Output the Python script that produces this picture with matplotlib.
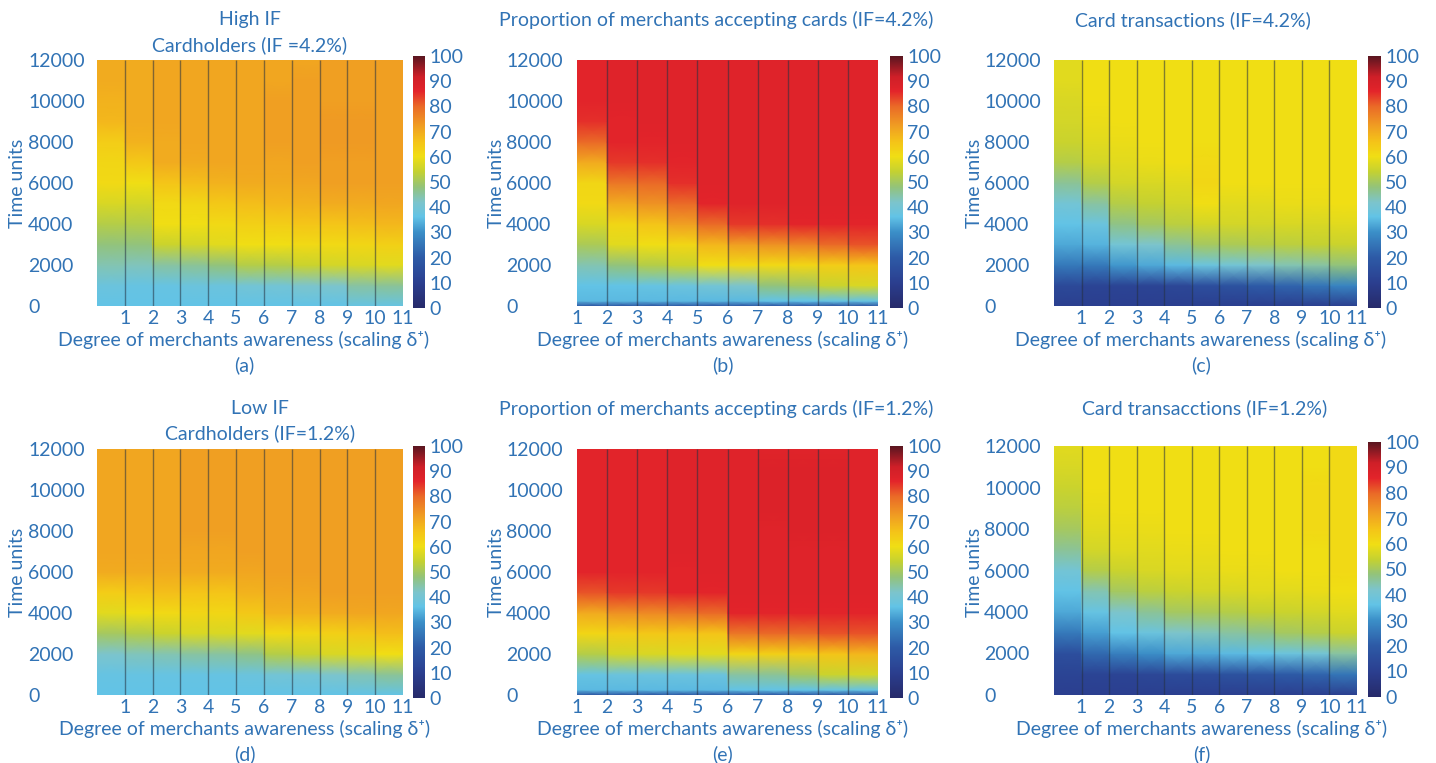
import numpy as np
import matplotlib
matplotlib.use("Agg")
import matplotlib.pyplot as plt
from matplotlib.colors import LinearSegmentedColormap, Normalize
from matplotlib.cm import ScalarMappable

plt.rcParams['font.family'] = ['Lato', 'DejaVu Sans']
TXT = '#3173b5'
W, H = 1436, 763

# time axis nodes (rows of the heatmaps)
time_units = [0, 1000, 2000, 3000, 4000, 5000, 6000, 7000, 8000, 9000, 10000, 11000, 12000]
# merchant panels have a thin dark strip at t=0, so they get one more node
merchant_time = [0, 250, 1000, 2000, 3000, 4000, 5000, 6000, 7000, 8000, 9000, 10000, 11000, 12000]
awareness = [1, 2, 3, 4, 5, 6, 7, 8, 9, 10, 11]

# (a) cardholders, IF = 4.2%  -- one list per awareness column, values at time_units
cardholders_high = [
    [36, 38, 44, 48, 52, 57, 61, 62, 64, 68, 69, 70, 70],
    [36, 37, 43, 48, 52, 56, 60, 65, 69, 70, 70, 70, 70],
    [36, 37, 45, 55, 60, 61, 66, 70, 70, 71, 71, 71, 71],
    [36, 38, 46, 56, 60, 62, 67, 70, 71, 71, 71, 71, 71],
    [36, 38, 48, 58, 61, 65, 69, 71, 71, 71, 71, 71, 71],
    [36, 40, 52, 60, 63, 67, 70, 71, 71, 71, 71, 71, 71],
    [36, 40, 52, 60, 64, 68, 70, 71, 72, 72, 72, 71, 71],
    [36, 42, 55, 61, 66, 69, 71, 72, 72, 72, 72, 72, 71],
    [36, 42, 56, 61, 66, 70, 72, 72, 73, 73, 72, 72, 72],
    [37, 45, 57, 62, 67, 70, 72, 72, 73, 73, 72, 72, 72],
    [37, 46, 58, 63, 68, 71, 72, 72, 72, 72, 72, 72, 72],
]

# (b) merchants accepting cards, IF = 4.2% (awareness 1..11, ten columns), values at merchant_time
merchants_high = [
    [18, 35, 36, 44, 51, 57, 61, 62, 70, 80, 85, 86, 86, 86],
    [18, 35, 36, 48, 58, 62, 70, 78, 84, 86, 86, 87, 87, 87],
    [18, 35, 37, 52, 60, 66, 74, 80, 85, 86, 87, 87, 87, 87],
    [18, 35, 38, 55, 62, 72, 80, 85, 86, 87, 87, 87, 87, 87],
    [18, 35, 40, 60, 68, 80, 86, 87, 87, 87, 87, 87, 87, 87],
    [18, 35, 42, 61, 72, 84, 87, 87, 87, 87, 87, 87, 87, 87],
    [18, 36, 48, 61, 74, 85, 87, 87, 87, 87, 87, 87, 87, 87],
    [18, 36, 50, 62, 76, 86, 87, 87, 87, 87, 87, 87, 87, 87],
    [18, 37, 55, 64, 80, 86, 87, 87, 87, 87, 87, 87, 87, 87],
    [18, 37, 57, 66, 82, 86, 87, 87, 87, 87, 87, 87, 87, 87],
]

# (c) card transactions, IF = 4.2%
transactions_high = [
    [10, 14, 26, 33, 36, 40, 46, 52, 55, 56, 57, 58, 58],
    [10, 12, 26, 34, 38, 45, 52, 56, 58, 59, 60, 60, 60],
    [10, 12, 31, 40, 47, 52, 56, 58, 59, 60, 60, 60, 60],
    [10, 12, 33, 42, 50, 54, 57, 59, 60, 60, 60, 60, 60],
    [10, 13, 35, 46, 53, 56, 58, 60, 60, 60, 60, 60, 60],
    [10, 16, 38, 50, 56, 60, 62, 61, 60, 60, 60, 60, 60],
    [10, 17, 40, 51, 56, 58, 60, 60, 60, 60, 60, 60, 60],
    [10, 20, 42, 52, 56, 58, 60, 60, 60, 60, 60, 60, 60],
    [10, 22, 44, 53, 57, 59, 60, 60, 60, 60, 60, 60, 60],
    [10, 25, 45, 54, 57, 59, 60, 60, 60, 60, 60, 60, 60],
    [10, 28, 48, 55, 58, 60, 60, 60, 60, 60, 60, 60, 60],
]

# (d) cardholders, IF = 1.2%
cardholders_low = [
    [36, 37, 42, 50, 58, 64, 70, 71, 71, 71, 71, 71, 71],
    [36, 37, 43, 52, 60, 66, 70, 71, 71, 71, 71, 71, 71],
    [36, 37, 44, 55, 61, 67, 70, 71, 71, 71, 71, 71, 71],
    [36, 37, 45, 57, 62, 66, 70, 71, 72, 72, 72, 72, 72],
    [36, 37, 45, 57, 62, 66, 70, 71, 72, 72, 72, 72, 72],
    [36, 38, 47, 58, 65, 69, 71, 72, 72, 72, 72, 72, 72],
    [36, 40, 52, 61, 69, 71, 72, 72, 72, 72, 72, 72, 72],
    [36, 40, 55, 62, 69, 71, 72, 72, 72, 72, 72, 72, 72],
    [36, 42, 57, 63, 70, 72, 72, 72, 72, 72, 72, 72, 72],
    [36, 44, 58, 65, 71, 72, 72, 72, 72, 72, 72, 72, 72],
    [36, 46, 60, 67, 71, 72, 72, 72, 72, 72, 72, 72, 72],
]

# (e) merchants accepting cards, IF = 1.2%, values at merchant_time
merchants_low = [
    [18, 35, 37, 52, 62, 70, 82, 86, 86, 86, 86, 86, 86, 86],
    [18, 35, 38, 56, 64, 74, 84, 86, 86, 86, 86, 86, 86, 86],
    [18, 35, 38, 57, 65, 75, 84, 86, 86, 86, 86, 86, 86, 86],
    [18, 35, 38, 58, 66, 78, 86, 86, 87, 87, 87, 87, 87, 87],
    [18, 35, 38, 58, 66, 80, 86, 87, 87, 87, 87, 87, 87, 87],
    [18, 36, 45, 62, 78, 86, 87, 87, 87, 87, 87, 87, 87, 87],
    [18, 36, 46, 63, 80, 86, 87, 87, 87, 87, 88, 88, 88, 87],
    [18, 36, 50, 64, 80, 86, 87, 87, 87, 88, 88, 88, 88, 87],
    [18, 37, 55, 66, 82, 86, 87, 87, 87, 88, 88, 88, 88, 87],
    [18, 37, 56, 68, 82, 86, 87, 87, 87, 87, 87, 87, 87, 87],
]

# (f) card transactions, IF = 1.2%
transactions_low = [
    [10, 12, 16, 26, 33, 36, 40, 46, 50, 53, 55, 57, 58],
    [10, 12, 23, 32, 37, 44, 52, 56, 58, 59, 60, 60, 60],
    [10, 12, 27, 36, 42, 50, 55, 58, 59, 60, 60, 60, 60],
    [10, 13, 30, 38, 46, 53, 57, 58, 59, 60, 60, 60, 60],
    [10, 15, 33, 42, 50, 55, 58, 59, 60, 60, 60, 60, 60],
    [10, 15, 33, 43, 51, 56, 58, 59, 60, 60, 60, 60, 60],
    [10, 17, 35, 45, 52, 57, 59, 60, 60, 60, 60, 60, 60],
    [10, 18, 36, 47, 54, 58, 59, 60, 60, 60, 60, 60, 60],
    [10, 20, 38, 50, 55, 58, 60, 60, 60, 60, 60, 60, 60],
    [10, 22, 40, 52, 56, 59, 60, 60, 61, 61, 61, 60, 60],
    [10, 25, 45, 55, 58, 60, 61, 61, 61, 61, 61, 61, 61],
]

cmap = LinearSegmentedColormap.from_list('printjet', [
    (0.00, '#262a6a'), (0.10, '#2b3f90'), (0.20, '#2d5aa6'), (0.30, '#3b8fc8'),
    (0.36, '#62c3e6'), (0.42, '#7cc4cc'), (0.48, '#93c37a'), (0.54, '#c3d132'),
    (0.60, '#f0de14'), (0.66, '#f4c418'), (0.72, '#f0a022'), (0.80, '#ea6a27'),
    (0.86, '#e3242a'), (0.92, '#cf1f28'), (1.00, '#5b1620')])
norm = Normalize(0, 100)


def px(l, t, r, b):
    return [l / W, 1 - b / H, (r - l) / W, (b - t) / H]


fig = plt.figure(figsize=(W / 100, H / 100), dpi=100)

panels = [
    # data, times, x start, axes box, colorbar box, titles, ylabel x, ytick left, letter, xlabel x, row offset
    (cardholders_high, time_units, 0, (97, 60, 403, 306), (413, 56, 425, 308),
     [('High IF', 250, 20), ('Cardholders (IF =4.2%)', 250, 45)], 18, 32, '(a)', 244, 0),
    (merchants_high, merchant_time, 1, (577, 60, 878, 306), (890, 56, 903, 308),
     [('Proportion of merchants accepting cards (IF=4.2%)', 716, 20)], 496, 510, '(b)', 723, 0),
    (transactions_high, time_units, 0, (1054, 60, 1357, 306), (1368, 56, 1381, 308),
     [('Card transactions (IF=4.2%)', 1193, 20)], 974, 988, '(c)', 1201, 0),
    (cardholders_low, time_units, 0, (97, 449, 403, 695), (413, 446, 425, 698),
     [('Low IF', 260, 408), ('Cardholders (IF=1.2%)', 260, 433)], 18, 32, '(d)', 245, 389),
    (merchants_low, merchant_time, 1, (577, 449, 878, 695), (890, 446, 903, 698),
     [('Proportion of merchants accepting cards (IF=1.2%)', 716, 409)], 496, 510, '(e)', 723, 389),
    (transactions_low, time_units, 0, (1054, 446, 1357, 695), (1368, 442, 1381, 697),
     [('Card transacctions (IF=1.2%)', 1205, 408)], 974, 988, '(f)', 1202, 389),
]

FS = 14
for data, times, xs, box, cbox, titles, ylx, ytl, letter, xlx, dy in panels:
    ax = fig.add_axes(px(*box))
    n = len(data)
    for i, col in enumerate(data):
        X, Y = np.meshgrid([xs + i, xs + i + 1], times)
        C = np.column_stack([col, col])
        ax.pcolormesh(X, Y, C, shading='gouraud', cmap=cmap, norm=norm)
    ax.vlines(np.arange(xs + 1, xs + n), 0, 12000, color='#243040', lw=1.0, alpha=0.55)
    ax.set_xlim(xs, xs + n)
    ax.set_ylim(0, 12000)
    ax.set_xticks(awareness)
    ax.set_xticklabels([str(v) for v in awareness])
    ax.set_yticks([0, 2000, 4000, 6000, 8000, 10000, 12000])
    ax.tick_params(length=0, labelsize=FS, labelcolor=TXT)
    ax.tick_params(axis='y', pad=(box[0] - ytl + 4) * 0.72)
    for lbl in ax.get_yticklabels():
        lbl.set_ha('left')
    ax.tick_params(axis='x', pad=3)
    for s in ax.spines.values():
        s.set_visible(False)

    cax = fig.add_axes(px(*cbox))
    cb = fig.colorbar(ScalarMappable(norm=norm, cmap=cmap), cax=cax)
    cb.set_ticks(range(0, 101, 10))
    cb.outline.set_visible(False)
    cax.tick_params(length=0, labelsize=FS, labelcolor=TXT, pad=3)

    for text, x, y in titles:
        fig.text(x / W, 1 - y / H, text, ha='center', va='center', color=TXT, fontsize=FS)
    fig.text(ylx / W, 1 - (183 + dy) / H, 'Time units', rotation=90, ha='center', va='center',
             color=TXT, fontsize=FS)
    fig.text(xlx / W, 1 - (340 + dy) / H, 'Degree of merchants awareness (scaling δ⁺)',
             ha='center', va='center', color=TXT, fontsize=FS)
    fig.text(xlx / W, 1 - (365 + dy) / H, letter, ha='center', va='center', color=TXT, fontsize=FS)

fig.savefig('out.png', dpi=100)
